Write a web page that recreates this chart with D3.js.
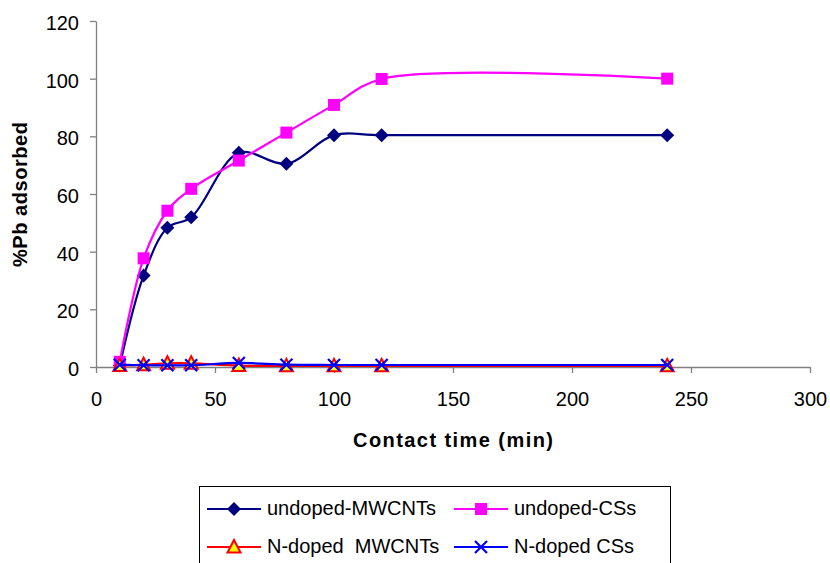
<!DOCTYPE html>
<html>
<head>
<meta charset="utf-8">
<script src="https://cdn.jsdelivr.net/npm/d3@7"></script>
<style>
  html, body { margin: 0; padding: 0; background: #fff; }
  svg { display: block; font-family: Arial, "Liberation Sans", sans-serif; }
</style>
</head>
<body>
<svg id="chart" width="830" height="563"></svg>
<script>
// ---- data ----
const contactTime = [10, 20, 30, 40, 60, 80, 100, 120, 240];
const undopedMWCNTs = [0.5, 31.7, 48.3, 51.9, 74.3, 70.5, 80.4, 80.4, 80.4];
const undopedCSs = [1.8, 37.7, 54.2, 61.8, 71.6, 81.3, 90.9, 99.9, 100];
const nDopedMWCNTs = [0.5, 0.8, 1.3, 1.3, 0.5, 0.4, 0.4, 0.4, 0.4];
const nDopedCSs = [0.8, 0.6, 0.6, 0.6, 1.4, 0.8, 0.7, 0.7, 0.7];
const xTicks = [0, 50, 100, 150, 200, 250, 300];
const yTicks = [0, 20, 40, 60, 80, 100, 120];
const seriesNames = ["undoped-MWCNTs", "undoped-CSs", "N-doped  MWCNTs", "N-doped CSs"];

const svg = d3.select("#chart");
const x = d3.scaleLinear().domain([0, 300]).range([96, 810]);
const y = d3.scaleLinear().domain([0, 120]).range([367, 21]);
const fontSize = 20;
const axisColor = "#808080";

// axes
const xAxis = svg.append("g").attr("transform", `translate(0,${y(0)})`)
  .call(d3.axisBottom(x).tickValues(xTicks).tickSize(6).tickPadding(19).tickSizeOuter(0));
const yAxis = svg.append("g").attr("transform", `translate(${x(0)},0)`)
  .call(d3.axisLeft(y).tickValues(yTicks).tickSize(6).tickPadding(11).tickSizeOuter(0));
[xAxis, yAxis].forEach(g => {
  g.selectAll("path, line").attr("stroke", axisColor).attr("stroke-width", 1.3);
  g.selectAll("text").attr("font-size", fontSize).attr("fill", "#000")
    .attr("font-family", "Arial, 'Liberation Sans', sans-serif");
});
yAxis.selectAll("text").attr("dy", "0.42em");

// titles
svg.append("text").attr("x", 453).attr("y", 447).attr("text-anchor", "middle")
  .attr("font-weight", "bold").attr("font-size", fontSize)
  .attr("textLength", 200).attr("lengthAdjust", "spacing").text("Contact time (min)");
svg.append("text").attr("transform", "translate(27,194.5) rotate(-90)").attr("text-anchor", "middle")
  .attr("font-weight", "bold").attr("font-size", fontSize)
  .attr("textLength", 145).attr("lengthAdjust", "spacing").text("%Pb adsorbed");

const series = [
  { name: seriesNames[0], values: undopedMWCNTs, color: "#000080", marker: "diamond" },
  { name: seriesNames[1], values: undopedCSs, color: "#FF00FF", marker: "square" },
  { name: seriesNames[2], values: nDopedMWCNTs, color: "#FF0000", marker: "triangle" },
  { name: seriesNames[3], values: nDopedCSs, color: "#0000FF", marker: "x" }
];

const line = d3.line().x(d => x(d[0])).y(d => y(d[1])).curve(d3.curveCatmullRom.alpha(0.5));

function drawMarker(g, type, cx, cy, color) {
  if (type === "diamond") {
    g.append("path").attr("d", `M${cx},${cy-7}L${cx+7},${cy}L${cx},${cy+7}L${cx-7},${cy}Z`).attr("fill", color);
  } else if (type === "square") {
    g.append("rect").attr("x", cx-6).attr("y", cy-6).attr("width", 12).attr("height", 12).attr("fill", color);
  } else if (type === "triangle") {
    g.append("path").attr("d", `M${cx},${cy-7}L${cx+6.5},${cy+5.5}L${cx-6.5},${cy+5.5}Z`)
      .attr("fill", "#FFFF00").attr("stroke", color).attr("stroke-width", 2);
  } else if (type === "x") {
    g.append("path").attr("d", `M${cx-6},${cy-6}L${cx+6},${cy+6}M${cx-6},${cy+6}L${cx+6},${cy-6}`)
      .attr("stroke", color).attr("stroke-width", 2.2).attr("fill", "none");
  }
}

series.forEach(s => {
  const pts = contactTime.map((t, i) => [t, s.values[i]]);
  const g = svg.append("g");
  g.append("path").attr("d", line(pts)).attr("fill", "none").attr("stroke", s.color).attr("stroke-width", 2.2);
  pts.forEach(p => drawMarker(g, s.marker, x(p[0]), y(p[1]), s.color));
});

// legend
const lg = svg.append("g");
lg.append("rect").attr("x", 199.5).attr("y", 486.5).attr("width", 471).attr("height", 90)
  .attr("fill", "#fff").attr("stroke", "#000").attr("stroke-width", 1);
const legendPos = [[207, 509], [454, 509], [207, 547], [454, 547]];
series.forEach((s, i) => {
  const [lx, ly] = legendPos[i];
  lg.append("line").attr("x1", lx).attr("x2", lx + 54).attr("y1", ly).attr("y2", ly)
    .attr("stroke", s.color).attr("stroke-width", 2.2);
  drawMarker(lg, s.marker, lx + 27, ly, s.color);
  lg.append("text").attr("x", lx + 60).attr("y", ly + 5.5).attr("font-size", fontSize).text(s.name)
    .attr("xml:space", "preserve").style("white-space", "pre");
});
</script>
</body>
</html>
